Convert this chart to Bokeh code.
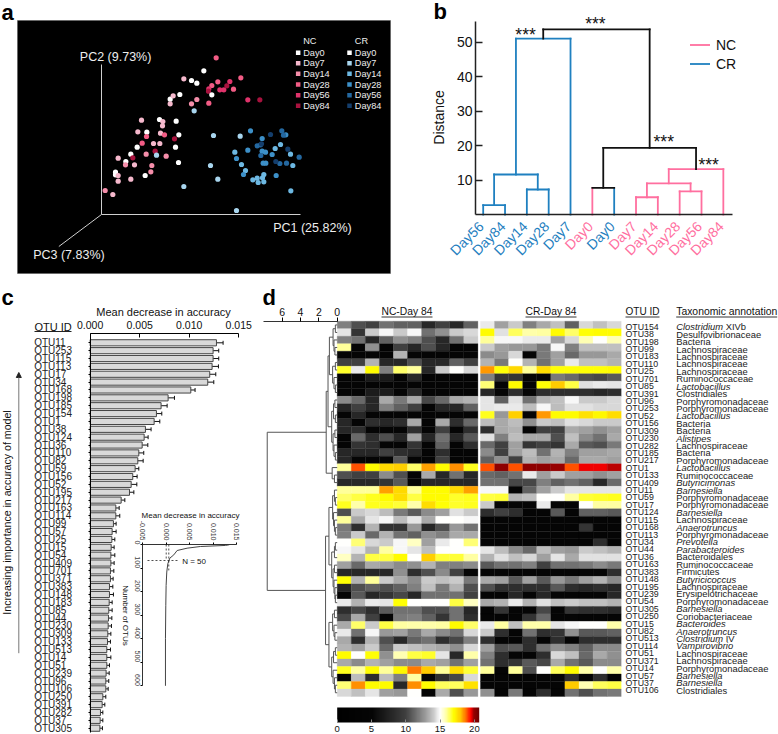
from math import pi
from bokeh.embed import file_html
from bokeh.resources import INLINE
from bokeh.plotting import figure
from bokeh.layouts import column, row
from bokeh.models import (Range1d, ColumnDataSource, LinearAxis, FixedTicker, Arrow, NormalHead,
                          Whisker, TeeHead, LinearColorMapper, ColorBar, Legend, LegendItem, NumeralTickFormatter)
from bokeh.core.properties import value
from bokeh.transform import transform

FONT = "Liberation Sans"

# ---------- panel a: PCoA scatter, projected (x, y)
nc_colors = ["#ffffff", "#f5b8cc", "#f58eaa", "#f25c85", "#e0336b", "#a8123e"]
cr_colors = ["#ffffff", "#a8d5ee", "#6db8e2", "#3d90c8", "#2468a0", "#143e6c"]
days = ["Day0", "Day7", "Day14", "Day28", "Day56", "Day84"]
nc_day0 = [(610,211),(573,240),(589,248),(538,282),(509,296),(477,357),(439,395),(391,461),(376,483),(345,515),(345,523)]
nc_day7 = [(550,235),(518,286),(509,310),(423,359),(487,363),(486,376),(412,394),(459,429),(478,429),(353,473),(402,493),(353,525),(353,542),(391,536),(337,582),(480,398)]
nc_day14 = [(573,310),(589,297),(497,467),(437,461),(454,495),(375,493),(451,514),(314,570)]
nc_day28 = [(634,255),(652,244),(699,266),(721,232),(625,308),(492,403),(438,408),(425,428),(647,172)]
nc_day56 = [(658,268),(670,268),(688,243),(625,265),(742,298)]
nc_day84 = [(679,256),(778,298),(522,415),(464,452),(397,472),(624,272)]
cr_day0 = [(525,440),(535,403),(527,362),(434,525),(634,283),(410,440),(534,486)]
cr_day7 = [(719,407),(630,495),(652,536),(550,558),(468,464),(708,630),(639,405),(581,331)]
cr_day14 = [(703,455),(723,492),(735,510),(757,538),(773,546),(790,544),(790,522),(786,532),(770,533),(824,444),(840,432),(870,461),(877,495),(871,571)]
cr_day28 = [(750,391),(742,449),(729,522),(708,474),(785,452),(795,455),(815,462),(788,488),(796,488),(827,525),(856,403),(785,414)]
cr_day56 = [(770,436),(780,433),(781,465),(849,404),(844,391),(896,470),(838,489),(858,488)]
cr_day84 = [(810,402),(783,430),(862,446),(826,483)]
nc_series = [nc_day0, nc_day7, nc_day14, nc_day28, nc_day56, nc_day84]
cr_series = [cr_day0, cr_day7, cr_day14, cr_day28, cr_day56, cr_day84]

# ---------- panel b: dendrogram
leaf_labels = ["Day56","Day84","Day14","Day28","Day7","Day0","Day0","Day7","Day14","Day28","Day56","Day84"]
leaf_groups = ["CR","CR","CR","CR","CR","NC","CR","NC","NC","NC","NC","NC"]
# x left, y left, x right, y right, height, left colour, top colour, right colour
merges = [
    (0, 0, 1, 0, 2.7, "CR", "CR", "CR"),
    (2, 0, 3, 0, 7.25, "CR", "CR", "CR"),
    (0.5, 2.7, 2.5, 7.25, 11.6, "CR", "CR", "CR"),
    (1.5, 11.6, 4, 0, 51.0, "CR", "CR", "CR"),
    (5, 0, 6, 0, 7.7, "NC", "K", "CR"),
    (7, 0, 8, 0, 5.0, "NC", "NC", "NC"),
    (9, 0, 10, 0, 6.7, "NC", "NC", "NC"),
    (7.5, 5.0, 9.5, 6.7, 9.0, "NC", "NC", "NC"),
    (8.5, 9.0, 11, 0, 13.15, "NC", "NC", "NC"),
    (5.5, 7.7, 9.75, 13.15, 19.3, "K", "K", "K"),
    (2.75, 51.0, 7.625, 19.3, 53.7, "K", "K", "K"),
]
star_x = [1.94, 5.14, 8.27, 10.33]
star_y = [52.0, 55.3, 21.0, 14.4]

# ---------- panel c: importance bars
bar_otus = ["OTU11","OTU253","OTU115","OTU113","OTU17","OTU34","OTU168","OTU198","OTU185","OTU154",
            "OTU1","OTU38","OTU124","OTU36","OTU110","OTU82","OTU59","OTU156","OTU52","OTU195",
            "OTU217","OTU163","OTU114","OTU99","OTU57","OTU25","OTU15","OTU54","OTU409","OTU701",
            "OTU371","OTU383","OTU148","OTU183","OTU85","OTU44","OTU230","OTU309","OTU133","OTU513",
            "OTU14","OTU51","OTU239","OTU96","OTU106","OTU250","OTU391","OTU282","OTU37","OTU305"]
bar_vals = [.01275,.01241,.01241,.01231,.01207,.01187,.01016,.00787,.00716,.00669,
            .00646,.00558,.00545,.00525,.00491,.00481,.00454,.0043,.00414,.00397,
            .00313,.00259,.00259,.00235,.00222,.00219,.00212,.00209,.00209,.00205,
            .00205,.00195,.00195,.00192,.00188,.00185,.00182,.00178,.00175,.00168,
            .00168,.00168,.00161,.00158,.00158,.00128,.00121,.00104,.00101,.00098]
bar_tops = [.01342,.01298,.01298,.01295,.01268,.01248,.01059,.00851,.00777,.00723,
            .00703,.00615,.00585,.00582,.00541,.00535,.00491,.00474,.00471,.00441,
            .0035,.00293,.00299,.00262,.00262,.00249,.00242,.00249,.00242,.00239,
            .00232,.00229,.00235,.00222,.00222,.00219,.00215,.00209,.00205,.00205,
            .00209,.00195,.00192,.00188,.00182,.00158,.00148,.00128,.00128,.00124]
curve_acc = [.0135,.01265,.0073,.00447,.00233,.00162,.00077,.00034,.00012,-.00002,-.00009,-.00016,-.00016]
curve_n = [1,4,8.5,15.6,25.5,44,58,82,117,174,260,400,600]

# ---------- panel d: heat map
heat_otus = ["OTU154","OTU38","OTU198","OTU99","OTU183","OTU110","OTU25","OTU701","OTU85","OTU391",
             "OTU96","OTU253","OTU52","OTU156","OTU309","OTU230","OTU282","OTU185","OTU217","OTU1",
             "OTU133","OTU409","OTU11","OTU59","OTU17","OTU124","OTU115","OTU168","OTU113","OTU34",
             "OTU44","OTU36","OTU163","OTU383","OTU148","OTU195","OTU239","OTU54","OTU305","OTU250",
             "OTU15","OTU82","OTU513","OTU114","OTU51","OTU371","OTU14","OTU57","OTU37","OTU106"]
taxa = ["Clostridium","Desulfovibrionaceae","Bacteria","Lachnospiraceae","Lachnospiraceae","Lachnospiraceae","Lachnospiraceae",
        "Ruminococcaceae","Lactobacillus","Clostridiales","Porphyromonadaceae","Porphyromonadaceae","Lactobacillus","Bacteria",
        "Bacteria","Alistipes","Lachnospiraceae","Bacteria","Porphyromonadaceae","Lactobacillus","Ruminococcaceae","Butyricimonas",
        "Barnesiella","Porphyromonadaceae","Porphyromonadaceae","Barnesiella","Lachnospiraceae","Anaerotruncus","Porphyromonadaceae",
        "Prevotella","Parabacteroides","Bacteroidales","Ruminococcaceae","Firmicutes","Butyricicoccus","Lachnospiraceae",
        "Erysipelotrichaceae","Porphyromonadaceae","Barnesiella","Coriobacteriaceae","Bacteroides","Anaerotruncus","Clostridium",
        "Vampirovibrio","Lachnospiraceae","Lachnospiraceae","Porphyromonadaceae","Barnesiella","Barnesiella","Clostridiales"]
italic_taxa = ["Clostridium","Lactobacillus","Alistipes","Butyricimonas","Barnesiella","Anaerotruncus","Prevotella",
               "Parabacteroides","Butyricicoccus","Bacteroides","Vampirovibrio"]
taxa_suffix = {0: "XIVb", 42: "IV"}
heat_nc = [
 [12,10.5,10,11.5,11,11,8,10,8,11],
 [14.5,9,14,14.8,14,14.8,11.5,12.5,14,14.3],
 [12,11.5,8,11,12.5,12,10.5,8,11.5,14],
 [16,5,12.5,5,10,8,10.5,8,5,5],
 [5,5,5,5,13.5,5,5,5,5,5],
 [10,10,13.5,8,8,10.5,8,8,11,10],
 [16.7,14.6,17,12,16.3,16,8,14,15,14.3],
 [5,5,7,7,5,8,5,5,5,5],
 [5,5,5,5,5,5,5,5,5,5],
 [5,5,7,7,5,8,5,5,5,5],
 [12.3,11.3,8,13.2,11.8,13.2,10.2,11.3,13.2,13.5],
 [8,10,8,12,11,10,5,8,8,11],
 [5,8,5,5,5,5,5,5,5,5],
 [8,5,8.5,8,8.5,13.2,5,13.2,8.5,11.3],
 [8,8.5,5,5,5,8.5,5,10,5,8.5],
 [5,11.3,8.5,10.5,8,13,8,11.5,8,10.8],
 [5,9,8.5,5,5,9,5,11,5,8.5],
 [8,8,8,10,8.5,8,5,8.5,5,5],
 [8,5,5,5,10.8,5,5,10,5,5],
 [16,19,17,17.7,17.8,16.3,18.3,17,18.5,16.8],
 [10.5,10,10,12.3,10.5,5,13.2,8,11.5,8],
 [8,8,8,9,10.8,5,8,8,8,8],
 [16,16,16,18.3,17.7,16,17,17,17.7,18.3],
 [16.3,16.5,16.8,17,17.6,16.5,17,17,16.7,16.8],
 [16.8,15.8,16.8,16.8,16.6,15.8,17.6,16.9,16.7,16.8],
 [10.5,14,14.3,13.7,11.8,10.8,12.3,13,14.4,14],
 [16,13.2,14.5,14.8,13.7,14.5,13.2,15,15,14.8],
 [11.8,8.5,13.5,9,9,12.7,8,10.5,12.7,11.5],
 [12,14,11.3,13.5,11.5,11,12.5,12,13.2,13.2],
 [15,16.2,14.3,14,14.8,15.6,13,14.6,15,16.2],
 [14.8,14.5,13.5,15.9,14.8,14.5,13.7,15,15,15],
 [15.6,13.5,16.5,16.5,17,15,17.8,16.6,16.6,15.9],
 [13,11.3,13.2,13,12.3,12.5,13.5,12,12,12.3],
 [8,8,8,8,12.5,8.5,10.5,12.3,10,5],
 [16.9,13.5,16,14,13.2,12.3,14,13.8,14,11.8],
 [8,10.5,11,10.5,11,12,13.8,11.8,13.5,10.5],
 [5,10.8,8,9,10.2,8,11.5,11.5,11.5,10],
 [14.6,13.5,14.6,14.5,16.9,15,15,15,16.5,15.6],
 [8.5,10.2,8.5,10.8,11.5,11.5,10.5,10.5,11.5,8],
 [10.2,13.2,10,5,11.8,12,11,9,11.5,8.5],
 [13.2,16.3,14,16.5,15.9,15.8,15.8,15.9,17,16.3],
 [14.6,11.5,14.8,12.7,13,11.8,13.2,12.3,11.5,14.3],
 [13.2,8.5,13.5,10.5,8,11,11.5,8.5,10.2,12],
 [13.5,13,14,11.3,14,13.8,13.5,13.2,12.5,14.3],
 [17,15,16.9,12.5,15.7,16.5,16.7,14.5,8,15.8],
 [13.2,12.3,13.5,13,12.3,12.3,13.2,13,11.5,13],
 [16.8,15.9,17,16,17.1,18.6,17.9,16,17.6,16.6],
 [5,13.7,8.5,13.7,12,15.9,5,8.5,10.2,14.3],
 [16.2,18.5,17,17,8,18.5,17,16.4,16.4,17.5],
 [14.3,13.8,14.5,13,12.7,15,5,13.2,10.5,12.7],
]
heat_cr = [
 [14.6,13,14,12,13.2,13.8,11,14.3,13.8,14.3],
 [17,14.4,16.4,15.8,15.9,17,16.3,16.9,17,17],
 [16,14.8,14.8,14.6,14.6,13,14.3,15.7,15,15.7],
 [14,13,12.7,12.7,11.8,14.8,12,13.8,13.8,13.8],
 [12.3,12.7,14.3,5,11.8,13,11.3,12.7,12.7,13.2],
 [13.5,11.8,15,13.5,11.5,13,14.6,13.8,13.8,13.5],
 [18.4,16.9,17.7,16,17.6,16.9,16.9,16.9,16.9,17],
 [12,9,9,5,5,11.8,11.3,10.5,10.2,10.8],
 [16.2,5,17,5,16.9,17.9,16.5,14.4,14.6,14.5],
 [8,5,8.5,5,8.5,8.5,8.5,8.5,8,8.5],
 [14.5,11,14.4,11.5,13.5,13.8,14.8,14,14,14.3],
 [14.5,14.6,14.6,13.7,14.8,13.7,14.4,14.4,14.3,14.3],
 [16.8,12.7,17.8,5,18.4,17,17,17.5,17.1,17.6],
 [13.7,13.2,13.7,12.5,14,13.8,14.4,14.3,14,14],
 [8.5,13.2,13.5,5,10,10,13.2,13,12.5,13],
 [14.4,12,13.7,13.2,13.2,10.5,13.8,12.3,11.5,13.2],
 [11.3,10,13,9,10,9,13.2,10.8,10.5,11.8],
 [12.3,10,13,13.7,11.5,13.5,12,13,13,13.2],
 [11,12.5,10,13.5,13,13.2,11.3,13.2,13.2,13],
 [19,20,19,20,20,19.9,19,19.5,19.5,19.8],
 [11.3,11,11.5,14.6,13,14,13,13,12.5,13],
 [11.5,11.5,10.2,10.2,12,11,11.5,11,8,11.3],
 [14.8,14.8,5,11,13,14,14.5,14.5,14.5,14.5],
 [16.5,16.6,13.5,13.7,15,15,15.9,16.6,16.7,16.8],
 [14,5,5,5,14.6,5,5,15,15.9,15.9],
 [8.5,10,8.5,5,5,10.8,5,11,11,10.8],
 [5,5,5,5,5,5,5,5,5,5],
 [5,5,5,5,5,5,5,9,5,5],
 [5,5,5,5,5,5,5,5,5,5],
 [5,5,5,5,5,5,5,5,8.5,5],
 [14.5,13.7,12.3,11.3,13.7,13,12.7,14,13.8,13.5],
 [13.5,14.4,13.8,14.3,13,14.5,13.2,14.4,14.4,14.4],
 [10.8,11.5,11.5,12,10,11.5,11.5,11.8,12.3,11.8],
 [5,5,5,5,5,5,5,5,5,8.5],
 [13.2,13,10.8,13,10.8,12.7,11.8,13,13.5,12.3],
 [10.5,8.5,8.5,8.5,8.5,10.8,8.5,8,8.5,8],
 [5,5,8,5,8,5,5,5,5,8],
 [13.2,13.5,14.6,13.5,14.4,13.8,14,13.8,13.8,13.5],
 [5,9,5,5,10.2,5,9,8.5,8.5,8],
 [5,5,5,9,11.3,5,5,5,5,5],
 [14.6,15.9,13.8,15.8,15.8,14.5,14.8,15,15,15.8],
 [14,8.5,5,11.5,8.5,9,12.5,10.8,10.8,11],
 [8.5,5,5,8.5,5,8.5,5,8.5,8.5,8.5],
 [13,10.5,10.8,8.5,11.5,12.5,12,11,12.3,12.3],
 [12,8.5,5,5,8.5,14.3,13.8,11.3,13.2,12.5],
 [11.5,8.5,9,10.8,10.2,13.2,11.5,10.8,12.3,12.3],
 [16,5,16,10.5,15,16.4,17,15.8,15,15.8],
 [5,5,5,5,5,5,8.5,5,8.5,5],
 [5,5,5,5,5,5,17.9,15.7,16.4,16.5],
 [12.5,5,11.8,5,8.5,5,11.5,10.5,11.5,11.8],
]
# clustering of the heat-map rows: (height, left, right)
tree_A1 = (.85,(.45,(.2,0,1),(.35,2,(.25,3,4))),(.5,(.2,5,6),(.35,7,(.2,8,9))))
tree_A2 = (.6,(.4,(.25,10,11),(.2,12,13)),(.45,(.25,14,15),(.35,16,(.2,17,18))))
tree_B = (.55,19,(.3,20,21))
tree_C1 = (.5,(.3,22,(.2,23,24)),(.4,25,(.3,26,(.2,27,28))))
tree_C2 = (.6,(.3,(.2,29,30),31),(.45,(.3,32,33),(.35,34,(.25,35,(.2,36,37)))))
tree_D = (.9,(.5,(.3,38,39),(.35,40,(.25,41,42))),(.6,(.4,(.2,43,44),45),(.45,46,(.3,47,(.2,48,49)))))
tree_root = (7.63,(1.2,(1.0,tree_A1,tree_A2),tree_B),(1.27,(.9,tree_C1,tree_C2),tree_D))
heat_stops = [(0,(0,0,0)),(5,(5,5,5)),(8,(40,40,40)),(10,(64,64,64)),(12,(128,128,128)),(13,(160,160,160)),(14,(200,200,200)),
              (15,(255,255,255)),(16,(255,255,153)),(17,(255,255,0)),(18,(255,200,0)),(18.5,(255,144,0)),(19,(255,80,0)),
              (19.5,(255,0,0)),(20,(144,0,0)),(20.7,(110,0,0))]


def panel(ox, oy, w, h, xr, yr):
    """A figure whose frame fills it, so marks and text can sit anywhere in it; returns figure and page-pixel converter."""
    p = figure(width=w, height=h, min_border=0, x_range=Range1d(*xr), y_range=Range1d(*yr), x_axis_type=None, y_axis_type=None,
               toolbar_location=None, output_backend="svg", outline_line_color=None, frame_align=False)
    p.grid.visible = False
    def xy(px, py):
        return (xr[0] + (px - ox) / w * (xr[1] - xr[0]),
                yr[1] + (py - oy) / h * (yr[0] - yr[1]))
    return p, xy


def txt(p, xy, px, py, s, size=10, color="#111111", align="left", angle=0, style="normal", baseline="middle"):
    x, y = xy(px, py)
    p.text([x], [y], text=[s], text_font=value(FONT), text_font_size=f"{size}px", text_color=color, text_align=align,
           text_baseline=baseline, angle=angle, angle_units="deg", text_font_style=style)


def rule(p, xy, p0, p1, color="#222222", width=1, head=None):
    x0, y0 = xy(*p0)
    x1, y1 = xy(*p1)
    if head is None:
        p.segment([x0], [y0], [x1], [y1], line_color=color, line_width=width)
    else:
        p.add_layout(Arrow(x_start=x0, y_start=y0, x_end=x1, y_end=y1, end=head, line_color=color, line_width=width))


# ========== a
pa, xya = panel(0, 0, 400, 285, (0, 1200), (855, 0))
pa.quad(left=[51], right=[1170], top=[60], bottom=[819], fill_color="#000000", line_color="#555555", line_width=0.5)
pa.segment(x0=[303, 303, 303], y0=[642, 642, 642], x1=[303, 900, 175], y1=[192, 642, 738], line_color="#cfcfcf", line_width=1)
for series, colors in ((nc_series, nc_colors), (cr_series, cr_colors)):
    for pts, c in zip(series, colors):
        pa.scatter([q[0] for q in pts], [q[1] for q in pts], marker="circle", size=5.2, fill_color=c, line_color=None)
for s, x, y in (("PC2 (9.73%)", 238, 168), ("PC1 (25.82%)", 818, 681), ("PC3 (7.83%)", 98, 762)):
    pa.text([x], [y], text=[s], text_font=value(FONT), text_font_size="12.5px", text_color="#eeeeee", text_baseline="middle")
leg_y = [157, 188, 220, 252, 284, 316]
for head, mx, tx, colors in (("NC", 893, 908, nc_colors), ("CR", 1047, 1063, cr_colors)):
    pa.text([tx], [122], text=[head], text_font=value(FONT), text_font_size="9.2px", text_color="#eeeeee", text_baseline="middle")
    pa.scatter([mx] * 6, leg_y, marker="square", size=4.5, fill_color=colors, line_color=None)
    pa.text([tx] * 6, leg_y, text=days, text_font=value(FONT), text_font_size="9.2px", text_color="#eeeeee", text_baseline="middle")
txt(pa, xya, 1, 12, "a", size=22, color="#000000", style="bold")

# ========== b
PINK, BLUE, BLK = "#ff6f9f", "#1f80c0", "#111111"
COL = {"NC": PINK, "CR": BLUE, "K": BLK}
pb, xyb = panel(400, 0, 378, 285, (-3.788, 13.527), (-20.6, 62.08))
segs = {"NC": ([], [], [], []), "CR": ([], [], [], []), "K": ([], [], [], [])}
def add_seg(k, x0, y0, x1, y1):
    for lst, v in zip(segs[k], (x0, y0, x1, y1)):
        lst.append(v)
for xl, yl, xr_, yr_, h, cl, ct, cr in merges:
    add_seg(cl, xl, yl, xl, h)
    add_seg(ct, xl, h, xr_, h)
    add_seg(cr, xr_, yr_, xr_, h)
seg_r = {k: pb.segment(x0=v[0], y0=v[1], x1=v[2], y1=v[3], line_color=COL[k], line_width=1.8, line_cap="square") for k, v in segs.items()}
yax = LinearAxis(fixed_location=-0.353, bounds=(0, 56), ticker=FixedTicker(ticks=[10, 20, 30, 40, 50]),
                 major_label_text_font=FONT, major_label_text_font_size="14px", major_label_text_color="#111111",
                 major_tick_in=7, major_tick_out=0, minor_tick_line_color=None, major_label_standoff=3,
                 axis_line_width=1.5, major_tick_line_width=1.5, axis_line_color="#222222", major_tick_line_color="#222222")
pb.add_layout(yax, "left")
xax = LinearAxis(fixed_location=0, bounds=(-0.353, 11.42), ticker=FixedTicker(ticks=[]), axis_line_width=1.5, axis_line_color="#222222",
                 major_tick_line_color=None, minor_tick_line_color=None, major_label_text_color=None)
pb.add_layout(xax, "below")
txt(pb, xyb, 438, 117, "Distance", size=14, align="center", angle=90)
leaf_src = ColumnDataSource(dict(x=list(range(len(leaf_labels))), y=[-1.6] * len(leaf_labels), t=leaf_labels,
                                 c=[COL[g] for g in leaf_groups]))
pb.text(x="x", y="y", text="t", source=leaf_src, text_color="c", text_font=value(FONT), text_font_size="14px",
        text_align="right", text_baseline="middle", angle=45, angle_units="deg", x_offset=-2, y_offset=4)
pb.text(star_x, star_y, text=["***"] * 4, text_font=value(FONT), text_font_size="17.5px", text_color="#111111", text_align="center", text_baseline="middle")
pb.add_layout(Legend(items=[LegendItem(label="NC", renderers=[seg_r["NC"]]), LegendItem(label="CR", renderers=[seg_r["CR"]])],
                     location=(290, 212), orientation="vertical", border_line_color=None, background_fill_alpha=0, padding=0, margin=0,
                     spacing=0, glyph_width=20, glyph_height=19, label_standoff=6, label_height=19, label_text_font=FONT, label_text_font_size="14px",
                     label_text_color="#111111"))
txt(pb, xyb, 433, 11, "b", size=22, color="#000000", style="bold")

# ========== c
pc, xyc = panel(0, 285, 255, 449, (-0.00905, 0.01669), (50.80, -6.285))
ranks = list(range(1, len(bar_otus) + 1))
bar_src = ColumnDataSource(dict(y=ranks, v=bar_vals, t=bar_tops, o=bar_otus, x=[0] * len(ranks)))
pc.hbar(y="y", left=0, right="v", height=0.78, source=bar_src, fill_color="#d9d9d9", line_color="#444444", line_width=1)
pc.add_layout(Whisker(source=bar_src, base="y", lower="v", upper="t", dimension="width", line_color="#111111", line_width=1,
                      upper_head=TeeHead(size=4, line_color="#111111", line_width=1), lower_head=None))
cax = LinearAxis(fixed_location=-0.144, bounds=(0, .015), ticker=FixedTicker(ticks=[0, .005, .01, .015]),
                 formatter=NumeralTickFormatter(format="0.000"), major_label_text_font=FONT, major_label_text_font_size="10.5px",
                 major_label_standoff=5, major_tick_in=4, major_tick_out=0, minor_tick_line_color=None, major_label_text_color="#111111")
pc.add_layout(cax, "above")
cyax = LinearAxis(fixed_location=0, bounds=(-0.144, 50.51), ticker=FixedTicker(ticks=ranks), major_label_text_color=None, major_tick_out=2,
                  major_tick_in=0, minor_tick_line_color=None)
pc.add_layout(cyax, "left")
pc.text(x="x", y="y", text="o", source=bar_src, text_font=value(FONT), text_font_size="10px", text_color="#222222",
        text_align="left", text_baseline="middle", x_offset=-56)
txt(pc, xyc, 163, 311, "Mean decrease in accuracy", size=11, align="center")
txt(pc, xyc, 34, 326, "OTU ID", size=11)
rule(pc, xyc, (34, 331), (71, 331))
txt(pc, xyc, 6.5, 512, "Increasing importance in accuracy of model", size=10.6, align="center", angle=90)
rule(pc, xyc, (18.3, 652.7), (18.3, 372), color="#777777", head=NormalHead(size=5, fill_color="#222222", line_color="#222222"))
txt(pc, xyc, 1, 297, "c", size=22, color="#000000", style="bold")
# inset
pc.extra_x_ranges["inset_x"] = Range1d(-0.03541, 0.01908)
pc.extra_y_ranges["inset_y"] = Range1d(806.8, -1099.8)
in_x = LinearAxis(x_range_name="inset_x", y_range_name="inset_y", fixed_location=0, bounds=(-0.005, 0.015),
                  ticker=FixedTicker(ticks=[-.005, 0, .005, .01, .015]), formatter=NumeralTickFormatter(format="0.000"),
                  major_label_orientation=-pi / 2, major_label_text_font=FONT, major_label_text_font_size="7px",
                  major_label_standoff=2, major_tick_out=2, major_tick_in=0, minor_tick_line_color=None, axis_line_color="#333333")
pc.add_layout(in_x, "above")
in_y = LinearAxis(x_range_name="inset_x", y_range_name="inset_y", fixed_location=-0.005, bounds=(0, 600),
                  ticker=FixedTicker(ticks=[0, 100, 200, 300, 400, 500, 600]), major_label_orientation=-pi / 2,
                  major_label_text_font=FONT, major_label_text_font_size="7px", major_label_standoff=3, major_tick_out=2,
                  major_tick_in=0, minor_tick_line_color=None, axis_line_color="#333333")
pc.add_layout(in_y, "left")
pc.line(curve_acc, curve_n, x_range_name="inset_x", y_range_name="inset_y", line_color="#444444", line_width=1)
pc.segment(x0=[-0.004, .00055, 0], y0=[68, 0, 0], x1=[.0027, .00055, 0], y1=[68, 110, 60], x_range_name="inset_x", y_range_name="inset_y",
           line_color="#222222", line_width=0.8, line_dash="2 2")
txt(pc, xyc, 181.7, 560.7, "N = 50", size=8)
txt(pc, xyc, 190, 515, "Mean decrease in accuracy", size=8, align="center")
txt(pc, xyc, 125, 615, "Number of OTUs", size=8, align="center", angle=-90)

# ========== d
ROW, COLW = 7.506, 14.07
GAP = (480 - 336.7) / COLW
pd_, xyd = panel(255, 285, 523, 449, (-81.7 / COLW, (523 - 81.7) / COLW), ((734 - 320.7) / ROW, (285 - 320.7) / ROW))
palette = []
for k in range(256):
    v = k / 255 * 20.7
    for (a, ca), (b, cb) in zip(heat_stops, heat_stops[1:]):
        if a <= v <= b:
            f = (v - a) / (b - a)
            palette.append("#%02x%02x%02x" % tuple(round(ca[i] + f * (cb[i] - ca[i])) for i in range(3)))
            break
mapper = LinearColorMapper(palette=palette, low=0, high=20.7)
hx, hy, hv = [], [], []
for offset, table in ((0, heat_nc), (GAP, heat_cr)):
    for r_i, vals in enumerate(table):
        for c_i, v in enumerate(vals):
            hx.append(offset + c_i + .5)
            hy.append(r_i + .5)
            hv.append(v)
pd_.rect(x="x", y="y", width=1, height=1, source=ColumnDataSource(dict(x=hx, y=hy, v=hv)),
         fill_color=transform("v", mapper), line_color=transform("v", mapper), line_width=0.3)
# row dendrogram
pd_.extra_x_ranges["dist"] = Range1d(81.7 / 9.17, (81.7 - 523) / 9.17)
t0, t1, t2, t3 = [], [], [], []
def walk(node):
    if isinstance(node, int):
        return 0.0, node + .5
    h, a, b = node
    ha, ya = walk(a)
    hb, yb = walk(b)
    t0.extend([ha, hb, h]); t1.extend([ya, yb, ya]); t2.extend([h, h, h]); t3.extend([ya, yb, yb])
    return h, (ya + yb) / 2
walk(tree_root)
pd_.segment(x0=t0, y0=t1, x1=t2, y1=t3, x_range_name="dist", line_color="#555555", line_width=1)
dax = LinearAxis(x_range_name="dist", fixed_location=0, bounds=(0, 8), ticker=FixedTicker(ticks=[0, 2, 4, 6]),
                 major_label_text_font=FONT, major_label_text_font_size="10.5px", major_label_standoff=1, major_tick_out=4,
                 major_tick_in=0, minor_tick_line_color=None, axis_line_color="#333333", major_label_text_color="#111111")
pd_.add_layout(dax, "above")
# labels
lab_y = [(326.3 - 320.7) / ROW + i * 7.42 / ROW for i in range(len(heat_otus))]
lab_x0 = [xyd(625, 0)[0]] * len(heat_otus)
lab_x1 = [xyd(675.7, 0)[0]] * len(heat_otus)
pd_.text(lab_x0, lab_y, text=heat_otus, text_font=value(FONT), text_font_size="8.8px", text_color="#222222", text_baseline="middle")
plain = [i for i, t in enumerate(taxa) if t not in italic_taxa]
ital = [i for i, t in enumerate(taxa) if t in italic_taxa]
pd_.text([lab_x1[i] for i in plain], [lab_y[i] for i in plain], text=[taxa[i] for i in plain], text_font=value(FONT),
         text_font_size="9.4px", text_color="#222222", text_baseline="middle")
pd_.text([lab_x1[i] for i in ital], [lab_y[i] for i in ital], text=[taxa[i] for i in ital], text_font=value(FONT),
         text_font_size="9.4px", text_font_style="italic", text_color="#222222", text_baseline="middle")
pd_.text([lab_x1[i] for i in taxa_suffix], [lab_y[i] for i in taxa_suffix], text=list(taxa_suffix.values()), text_font=value(FONT),
         text_font_size="9.4px", text_color="#222222", text_baseline="middle", x_offset=49.5)
for s, px, w_, sz in (("NC-Day 84", 381, 51, 10.3), ("CR-Day 84", 525, 51, 10.3), ("OTU ID", 625, 34, 10), ("Taxonomic annotation", 675.7, 101, 10.4)):
    txt(pd_, xyd, px, 310.5, s, size=sz)
    rule(pd_, xyd, (px, 316.5), (px + w_, 316.5), color="#333333")
txt(pd_, xyd, 262, 297, "d", size=22, color="#000000", style="bold")
pd_.add_layout(ColorBar(color_mapper=mapper, orientation="horizontal", ticker=FixedTicker(ticks=[0, 5, 10, 15, 20]), location=(81.7, 0), width=142, height=15,
                        padding=0, margin=0, background_fill_alpha=0, major_label_text_font=FONT, major_label_text_font_size="9.5px",
                        major_label_text_color="#111111", label_standoff=3, major_tick_line_color="#888888", major_tick_in=3,
                        bar_line_color=None, title=None))

layout = column(row(pa, pb, spacing=0), row(pc, pd_, spacing=0), spacing=0)
open("out.html", "w").write(file_html(layout, INLINE))
